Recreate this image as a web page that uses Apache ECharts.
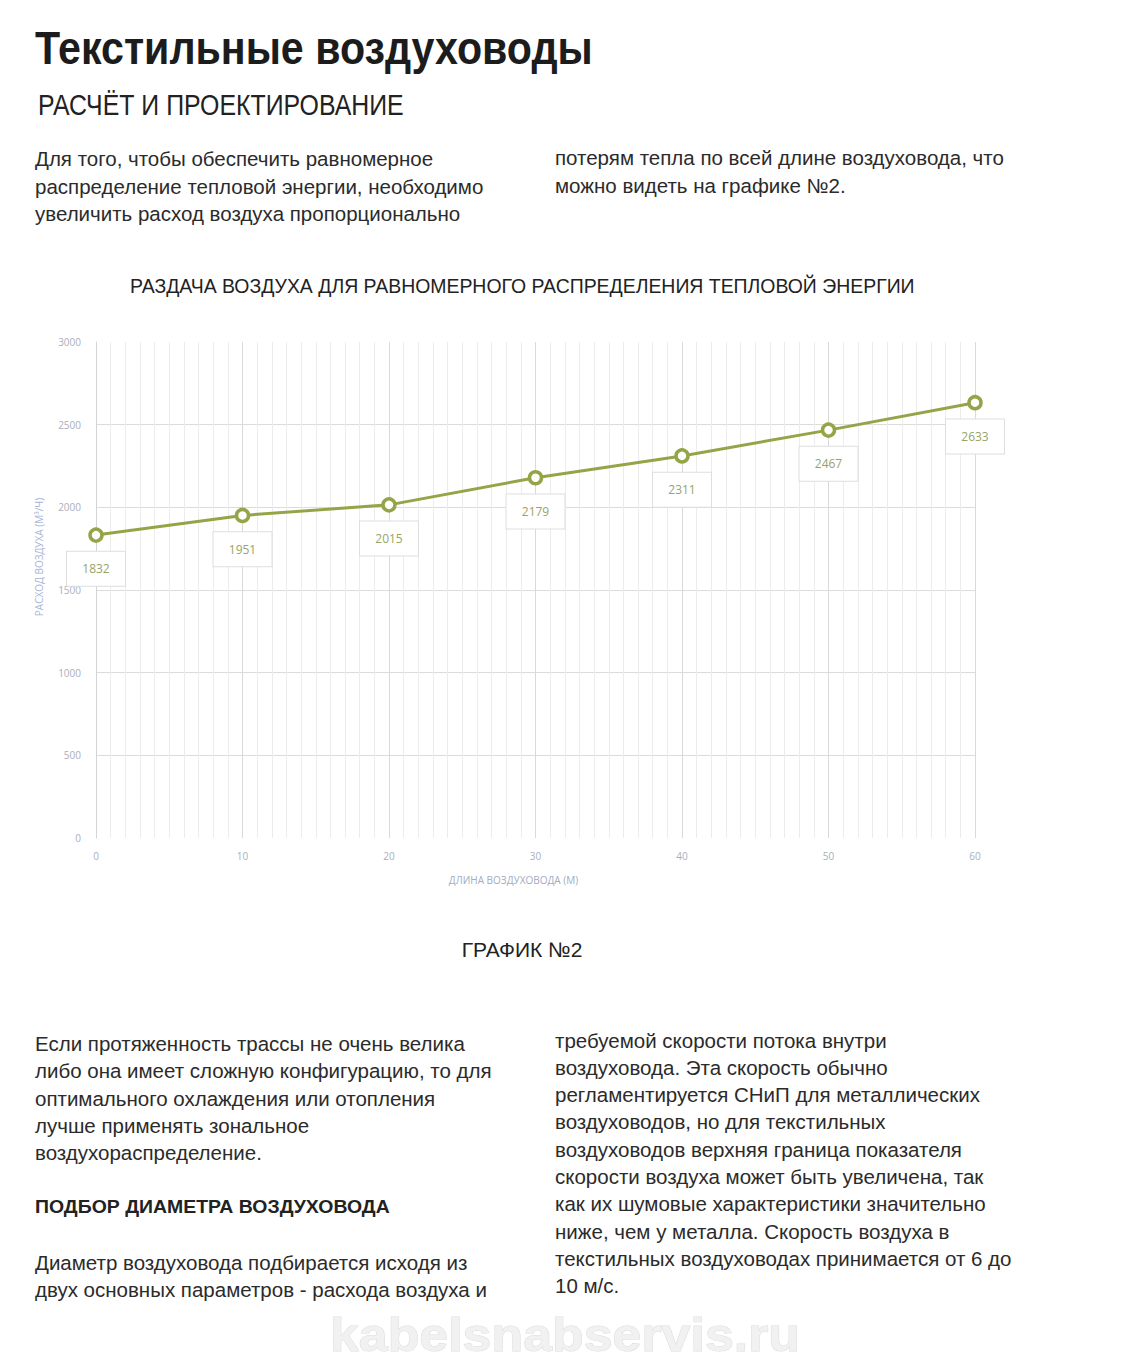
<!DOCTYPE html>
<html>
<head>
<meta charset="utf-8">
<script src="https://cdn.jsdelivr.net/npm/echarts@6/dist/echarts.min.js"></script>
<style>
html,body{margin:0;padding:0;background:#fff;}
#main{width:1126px;height:1362px;}
</style>
</head>
<body>
<div id="main"></div>
<script>
// ---- data ----
const lengthM = [0, 10, 20, 30, 40, 50, 60];
const airflow = [1832, 1951, 2015, 2179, 2311, 2467, 2633];
const yTicks = [0, 500, 1000, 1500, 2000, 2500, 3000];
const xTicks = [0, 10, 20, 30, 40, 50, 60];

// ---- texts ----
const pageTitle = 'Текстильные воздуховоды';
const sectionTitle = 'РАСЧЁТ И ПРОЕКТИРОВАНИЕ';
const introLeft = [
  'Для того, чтобы обеспечить равномерное',
  'распределение тепловой энергии, необходимо',
  'увеличить расход воздуха пропорционально'
];
const introRight = [
  'потерям тепла по всей длине воздуховода, что',
  'можно видеть на графике №2.'
];
const chartTitle = 'РАЗДАЧА ВОЗДУХА ДЛЯ РАВНОМЕРНОГО РАСПРЕДЕЛЕНИЯ ТЕПЛОВОЙ ЭНЕРГИИ';
const xName = 'ДЛИНА ВОЗДУХОВОДА (М)';
const yName = 'РАСХОД ВОЗДУХА (М³/Ч)';
const chartCaption = 'ГРАФИК №2';
const bottomLeft1 = [
  'Если протяженность трассы не очень велика',
  'либо она имеет сложную конфигурацию, то для',
  'оптимального охлаждения или отопления',
  'лучше применять зональное',
  'воздухораспределение.'
];
const subHeading = 'ПОДБОР ДИАМЕТРА ВОЗДУХОВОДА';
const bottomLeft2 = [
  'Диаметр воздуховода подбирается исходя из',
  'двух основных параметров - расхода воздуха и'
];
const bottomRight = [
  'требуемой скорости потока внутри',
  'воздуховода. Эта скорость обычно',
  'регламентируется СНиП для металлических',
  'воздуховодов, но для текстильных',
  'воздуховодов верхняя граница показателя',
  'скорости воздуха может быть увеличена, так',
  'как их шумовые характеристики значительно',
  'ниже, чем у металла. Скорость воздуха в',
  'текстильных воздуховодах принимается от 6 до',
  '10 м/с.'
];
const watermark = 'kabelsnabservis.ru';

const NARROW = '"Liberation Sans Narrow", "Liberation Sans", Arial, sans-serif';
const BODY = '"Liberation Sans", Arial, sans-serif';
const CHARTFONT = '"Open Sans", "Noto Sans", sans-serif';

// measure helper for fitting widths
const mctx = document.createElement('canvas').getContext('2d');
function fitScale(text, font, target) {
  mctx.font = font;
  const w = mctx.measureText(text).width;
  return w > 0 ? target / w : 1;
}

function txt(text, x, y, size, opts) {
  opts = opts || {};
  const family = opts.family || BODY;
  const weight = opts.weight || 'normal';
  const el = {
    type: 'text',
    x: x, y: y,
    style: {
      text: text,
      font: weight + ' ' + size + 'px ' + family,
      fill: opts.color || '#2b2b2b',
      textAlign: opts.align || 'left',
      textVerticalAlign: 'middle'
    },
    silent: true
  };
  if (opts.width) {
    el.scaleX = fitScale(text, weight + ' ' + size + 'px ' + family, opts.width);
  }
  return el;
}

const graphics = [];
graphics.push(txt(pageTitle, 35, 48, 46, {family: NARROW, weight: 'bold', color: '#1c1c1c', width: 558}));
graphics.push(txt(sectionTitle, 38, 105, 29, {family: NARROW, color: '#222', width: 366}));
const introY = [158, 186, 213];
introLeft.forEach((t, i) => graphics.push(txt(t, 35, introY[i], 20.5, {family: NARROW})));
introRight.forEach((t, i) => graphics.push(txt(t, 555, introY[i] - 0.5, 20.5, {family: NARROW})));
graphics.push(txt(chartTitle, 130, 286, 21, {family: NARROW, color: '#222', width: 785}));
graphics.push(txt(chartCaption, 522, 949, 21, {family: NARROW, color: '#222', align: 'center'}));
const bl1Y = [1043, 1070, 1098, 1125, 1152];
bottomLeft1.forEach((t, i) => graphics.push(txt(t, 35, bl1Y[i], 20.5, {family: NARROW})));
graphics.push(txt(subHeading, 35, 1207, 19, {family: NARROW, weight: 'bold', color: '#222', width: 355}));
const bl2Y = [1262, 1289];
bottomLeft2.forEach((t, i) => graphics.push(txt(t, 35, bl2Y[i], 20.5, {family: NARROW})));
bottomRight.forEach((t, i) => graphics.push(txt(t, 555, 1040 + i * 27.3, 20.5, {family: NARROW})));
const wmFont = 'bold 47px "Liberation Sans", Arial, sans-serif';
graphics.push({
  type: 'text', x: 565, y: 1334, silent: true,
  scaleX: fitScale(watermark, wmFont, 470),
  style: {
    text: watermark, font: wmFont,
    fill: '#f1f1f1', stroke: '#dcdcdc', lineWidth: 1,
    textAlign: 'center', textVerticalAlign: 'middle'
  }
});

const chart = echarts.init(document.getElementById('main'), null, {renderer: 'svg'});
chart.setOption({
  backgroundColor: '#fff',
  animation: false,
  grid: {left: 96, right: 151, top: 342, bottom: 524, containLabel: false},
  xAxis: {
    type: 'value', min: 0, max: 60, interval: 10,
    name: xName, nameLocation: 'middle', nameGap: 37,
    nameTextStyle: {color: '#a3abc0', fontSize: 10, fontFamily: CHARTFONT, padding: [0, 44, 0, 0]},
    axisLine: {show: false},
    axisTick: {show: false},
    axisLabel: {color: '#a9afbb', fontSize: 10, fontFamily: CHARTFONT, margin: 13, formatter: v => String(v)},
    splitLine: {show: true, lineStyle: {color: '#d9d9d9', width: 1}},
    minorTick: {show: false, splitNumber: 10},
    minorSplitLine: {show: true, lineStyle: {color: '#ececec', width: 1}}
  },
  yAxis: {
    type: 'value', min: 0, max: 3000, interval: 500,
    name: yName, nameLocation: 'middle', nameGap: 52, nameRotate: 90,
    nameTextStyle: {color: '#a6b6d8', fontSize: 10, fontFamily: CHARTFONT, padding: [0, 0, 0, 66]},
    axisLine: {show: true, lineStyle: {color: '#d4d4d4'}},
    axisTick: {show: false},
    axisLabel: {color: '#a9afbb', fontSize: 10, fontFamily: CHARTFONT, margin: 15, formatter: v => String(v)},
    splitLine: {show: true, lineStyle: {color: ['transparent', '#dcdcdc', '#dcdcdc', '#dcdcdc', '#dcdcdc', '#dcdcdc', 'transparent'], width: 1}}
  },
  series: [{
    type: 'line',
    data: lengthM.map((x, i) => [x, airflow[i]]),
    lineStyle: {color: '#94a548', width: 3},
    itemStyle: {color: '#fff', borderColor: '#94a548', borderWidth: 3.5},
    symbol: 'circle', symbolSize: 12,
    label: {
      show: true, position: 'bottom', distance: 9,
      color: '#98a466', fontSize: 12, fontFamily: CHARTFONT,
      backgroundColor: '#fff', borderColor: '#dedede', borderWidth: 1,
      width: 58, height: 34, lineHeight: 34, align: 'center', padding: 0
    },
    z: 5
  }],
  graphic: graphics
});
</script>
</body>
</html>
